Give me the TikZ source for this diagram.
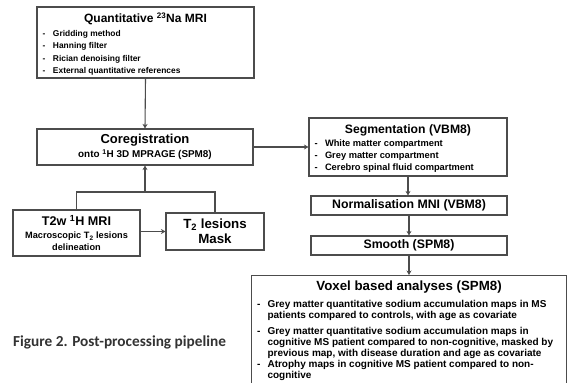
\documentclass[tikz,border=0pt]{standalone}
\usepackage{fontspec}
\setmainfont{Liberation Sans}
\newfontfamily\hdfont{Liberation Sans Bold}
\newfontfamily\capfont{Carlito}
\usetikzlibrary{arrows.meta,calc}

\newlength{\itmw}
\newcommand{\itm}[1]{\makebox[\itmw][l]{\makebox[10.5pt][l]{-}#1}}
\newcommand{\cnt}[1]{\makebox[\itmw][l]{\hspace*{10.5pt}#1}}
\newcommand{\hd}[2]{{\hdfont\fontsize{#1}{#1}\selectfont #2}}

\begin{document}
\begin{tikzpicture}[x=1pt,y=-1pt,
  box/.style={draw=black!70, line width=1.1pt, fill=white, inner sep=0pt,
    align=center, font=\bfseries\color{black!85}},
  itemw/.code={\setlength{\itmw}{#1}},
  link/.style={draw=black!70, line width=1.1pt},
  arr/.style={link, -{Stealth[length=4.5pt,width=5pt]}}]
  \clip (0,0) rectangle (571,383);
  \fill[white] (0,0) rectangle (571,383);

  % left column
  \node[box, itemw=206pt, minimum width=217pt, minimum height=71pt,
    font=\bfseries\fontsize{8.4}{12.4}\selectfont] (quant) at (145.5,42.5)
    {\rule{0pt}{13pt}\hd{12}{Quantitative \textsuperscript{23}Na MRI}\\[1pt]
     \itm{Gridding method}\\
     \itm{Hanning filter}\\
     \itm{Rician denoising filter}\\
     \itm{External quantitative references}};
  \node[box, minimum width=216pt, minimum height=36pt,
    font=\bfseries\fontsize{9.9}{14}\selectfont] (coreg) at (145,147)
    {\hd{13}{Coregistration}\\
     onto \textsuperscript{1}H 3D MPRAGE (SPM8)};
  \node[box, minimum width=127pt, minimum height=46pt,
    font=\bfseries\fontsize{9.2}{12}\selectfont] (t2w) at (76.5,233)
    {\hd{12.6}{T2w \textsuperscript{1}H MRI}\\[1.5pt]
     Macroscopic T\textsubscript{2} lesions\\delineation};
  \node[box, minimum width=98pt, minimum height=37pt,
    font=\bfseries\fontsize{13.3}{15}\selectfont] (lesion) at (215,231.5)
    {T\textsubscript{2} lesions\\Mask};
  \coordinate (join) at (145,192);

  % right column
  \node[box, itemw=187pt, minimum width=198pt, minimum height=58pt,
    font=\bfseries\fontsize{9.3}{12}\selectfont] (seg) at (408,147)
    {\rule{0pt}{12pt}\hd{12.2}{Segmentation (VBM8)}\\[1pt]
     \itm{White matter compartment}\\
     \itm{Grey matter compartment}\\
     \itm{Cerebro spinal fluid compartment}};
  \node[box, minimum width=196pt, minimum height=19pt,
    font=\bfseries\fontsize{12.3}{12}\selectfont] (norm) at (409,205.5)
    {Normalisation MNI (VBM8)};
  \node[box, minimum width=196pt, minimum height=19pt,
    font=\bfseries\fontsize{12.3}{12}\selectfont] (smooth) at (409,245.5)
    {Smooth (SPM8)};
  \node[box, itemw=304pt, minimum width=315pt, anchor=north west, inner ysep=5.5pt,
    font=\bfseries\fontsize{10}{11}\selectfont] (voxel) at (251,275)
    {\hd{13.3}{Voxel based analyses (SPM8)}\\[5.5pt]
     \itm{Grey matter quantitative sodium accumulation maps in MS}\\
     \cnt{patients compared to controls, with age as covariate}\\[5pt]
     \itm{Grey matter quantitative sodium accumulation maps in}\\
     \cnt{cognitive MS patient compared to non-cognitive, masked by}\\
     \cnt{previous map, with disease duration and age as covariate}\\
     \itm{Atrophy maps in cognitive MS patient compared to non-}\\
     \cnt{cognitive}\\
     \rule{0pt}{25pt}};

  \node[anchor=west, inner sep=0pt, font=\capfont\bfseries\fontsize{15.3}{16}\selectfont,
    text=black!80] (caption) at (13,342) {Figure 2. Post-processing pipeline};

  % connectors
  \draw[arr] (quant.south) -- (coreg.north);
  \draw[arr] (coreg.east) -- (coreg.east -| seg.west);
  \draw[arr] (seg.south) -- (seg.south |- norm.north);
  \draw[arr] (norm.south) -- (smooth.north);
  \draw[arr] (smooth.south) -- (smooth.south |- voxel.north);
  \draw[link] (t2w.north) |- (join);
  \draw[link] (lesion.north) |- (join);
  \draw[arr] (join) -- (coreg.south);
  \draw[arr] (lesion.west -| t2w.east) -- (lesion.west);
\end{tikzpicture}
\end{document}
